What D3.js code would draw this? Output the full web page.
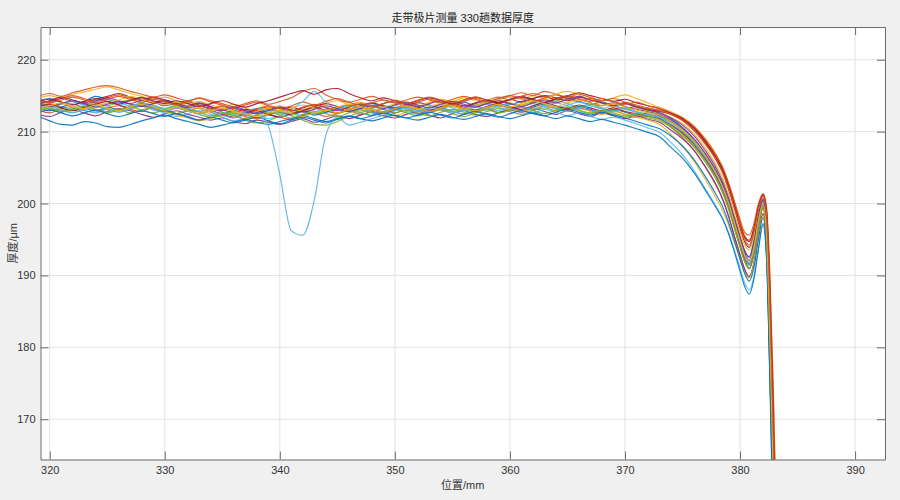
<!DOCTYPE html>
<html><head><meta charset="utf-8">
<script src="https://cdn.jsdelivr.net/npm/d3@7"></script>
<style>body{margin:0;background:#f0f0f0;}svg{display:block}</style>
</head><body><svg id="chart" width="900" height="500"></svg>
<script>
// ---- data ----
const chartTitle = "走带极片测量 330趟数据厚度";
const xLabel = "位置/mm";
const yLabel = "厚度/μm";
const xTicks = [320, 330, 340, 350, 360, 370, 380, 390];
const yTicks = [170, 180, 190, 200, 210, 220];
const xDomain = [319.2, 392.6];
const yDomain = [164.4, 224.55];

const positions = [319,320,321,322,323,324,325,326,327,328,329,330,331,332,333,334,335,336,337,338,
  339,340,341,342,343,344,345,346,347,348,349,350,351,352,353,354,355,356,357,358,
  359,360,361,362,363,364,365,366,367,368,369,370,371,372,373,
  374,375,376,377,378,378.5,379,379.5,380,380.4,380.8,381.2,381.6,382.0,382.3,382.6,382.9,383.2];

const run01 = [214.3,214.6,214.1,213.8,214.2,214.9,214.5,214.0,214.4,214.8,214.2,213.6,213.9,214.3,213.7,213.2,213.5,213.0,212.6,213.1,213.4,212.8,212.3,212.9,213.3,212.7,213.2,213.7,213.4,213.9,213.5,213.1,213.6,214.0,213.7,213.3,213.8,214.1,213.6,213.9,214.3,213.8,214.2,214.6,214.9,214.4,214.7,214.2,213.8,214.1,213.6,213.2,213.5,213.0,212.7,
  211.8,210.6,208.9,206.8,204.2,202.6,200.4,197.8,195.3,193.4,192.6,194.8,198.3,200.6,195.5,179.0,158.0,140];
const run02 = [213.0,212.6,213.2,213.5,212.9,212.7,213.3,213.6,213.1,212.8,213.4,213.0,212.5,212.9,213.3,212.7,212.2,212.6,212.1,211.8,212.4,212.0,211.7,212.3,212.6,212.1,212.5,212.9,212.4,212.8,213.1,212.6,213.0,212.5,212.9,213.3,212.8,212.4,212.9,213.2,212.7,213.1,213.5,213.0,213.6,213.2,212.8,213.3,212.9,212.5,212.9,212.4,212.0,212.3,211.9,
  210.6,209.2,207.4,205.0,202.2,200.5,198.2,195.5,192.8,190.8,189.8,191.6,195.6,198.6,194.0,178.5,160.0,140];
const run03 = [214.6,215.0,214.7,215.2,215.5,215.9,216.2,215.8,215.3,214.9,214.5,214.8,214.3,213.9,214.2,213.7,213.4,213.8,213.3,212.9,213.2,213.6,213.1,212.8,213.4,213.9,214.3,213.8,214.1,213.6,213.9,214.4,214.0,213.6,214.1,214.5,214.2,214.7,214.3,213.9,214.4,214.8,214.5,215.0,214.6,214.2,214.9,215.3,214.8,214.3,214.7,215.1,214.6,214.0,213.4,
  212.8,212.0,210.8,209.0,206.6,205.0,202.8,200.2,197.5,195.6,194.8,196.3,199.4,201.2,199.0,188.0,170.0,150];
const run04 = [212.4,212.1,212.7,213.0,212.6,212.2,212.8,213.2,212.9,212.4,212.0,212.5,212.9,212.4,212.0,211.6,211.9,211.4,211.1,211.6,211.3,211.0,211.4,211.8,211.3,211.7,212.2,211.8,212.3,212.7,212.2,211.9,212.4,212.8,212.3,211.9,212.5,212.9,212.4,212.1,212.6,213.0,212.7,213.2,212.8,212.4,212.9,212.5,212.1,212.6,212.2,211.8,212.2,211.7,211.3,
  210.2,209.0,207.4,205.1,202.4,200.6,198.3,195.5,192.9,190.9,189.8,191.7,195.6,198.6,194.0,177.0,157.0,140];
const run05 = [213.6,213.9,213.4,213.1,213.5,213.9,213.6,214.1,214.4,214.0,213.7,213.2,213.6,213.1,212.8,213.2,212.7,212.4,211.6,211.2,211.5,212.2,212.8,213.0,212.5,212.9,213.4,213.1,212.7,213.2,213.6,213.2,212.9,213.3,213.7,213.2,212.8,213.3,213.7,214.0,213.6,213.3,213.7,214.1,213.8,214.3,213.9,213.4,213.8,213.3,212.9,213.3,212.8,212.4,212.1,
  211.4,210.3,208.8,206.7,204.0,202.3,200.0,197.3,194.7,192.7,191.6,193.6,197.4,199.9,195.2,180.0,161.5,140];
const run06 = [212.8,213.2,212.9,213.4,213.0,212.6,213.1,212.7,213.2,213.5,213.0,212.6,212.1,212.5,212.9,212.4,212.0,211.5,211.9,212.3,211.8,212.2,212.6,212.2,212.7,213.1,212.6,213.0,212.7,212.3,212.8,213.2,212.8,212.4,212.9,213.3,212.9,212.5,213.0,213.4,212.9,213.3,213.0,212.6,213.1,212.7,212.2,212.6,212.1,211.7,212.0,211.6,211.1,210.5,209.9,
  208.5,206.8,204.6,202.0,199.4,197.9,196.0,193.6,191.0,189.0,188.0,189.8,193.8,197.0,192.5,175.0,154.0,140];
const run07 = [213.9,214.3,214.8,214.4,214.0,214.5,214.9,215.3,214.8,214.4,214.0,214.4,213.9,213.5,213.9,213.4,213.0,212.7,213.1,212.8,212.5,212.9,213.4,213.0,213.5,213.9,213.5,213.1,213.6,214.0,213.6,213.3,213.8,213.4,213.0,213.5,213.9,213.6,214.0,214.4,214.0,214.5,214.1,214.6,215.0,214.7,214.3,214.8,214.4,214.0,213.6,214.0,213.5,213.1,212.8,
  212.4,211.6,210.3,208.4,205.9,204.3,202.0,199.4,196.6,194.7,193.9,195.8,199.1,201.1,198.2,186.0,168.0,148];
const run08 = [213.3,212.9,213.4,213.8,213.3,212.9,213.4,213.0,213.5,213.9,213.4,213.0,212.5,212.1,211.6,211.9,212.4,212.8,212.3,212.7,213.1,212.7,212.4,212.8,212.3,212.7,213.1,212.8,213.3,212.9,212.5,213.0,213.4,213.0,212.7,213.2,213.6,213.2,212.8,213.3,213.7,213.3,212.9,213.4,213.8,213.4,213.0,213.5,213.1,212.7,213.1,212.7,212.3,212.6,212.2,
  211.3,210.1,208.5,206.4,203.8,202.1,199.9,197.2,194.6,192.6,191.5,193.5,197.3,199.8,195.0,179.5,160.5,140];
const run09 = [214.5,214.1,214.6,215.0,214.6,214.2,214.7,215.1,214.7,214.3,214.7,214.3,213.8,214.2,214.6,214.1,213.7,213.3,213.7,214.1,213.6,213.2,213.6,214.1,213.7,214.2,214.6,214.1,213.7,214.0,214.4,214.0,213.6,214.1,214.5,214.1,213.7,214.2,214.6,214.2,214.6,215.0,214.6,214.2,214.7,215.1,214.6,214.2,214.6,214.1,213.7,214.0,213.5,213.2,212.9,
  212.5,211.7,210.5,208.7,206.3,204.8,202.6,200.0,197.2,195.4,194.9,196.6,199.5,201.3,199.2,189.0,172.0,152];
const run10 = [213.2,213.6,213.1,212.7,213.2,213.6,213.2,212.8,213.3,213.7,213.2,212.8,212.3,211.9,211.5,211.8,212.3,212.7,212.4,212.9,213.3,212.9,212.6,213.1,213.4,212.9,212.5,213.0,213.4,213.0,212.6,212.2,212.7,213.1,212.7,213.2,213.6,213.1,212.7,213.2,213.6,213.2,212.8,213.2,213.7,213.3,212.8,213.2,212.8,212.4,212.8,212.4,212.0,211.6,211.0,
  209.6,208.0,205.9,203.3,200.5,199.0,197.0,194.6,192.2,190.4,189.6,191.5,195.4,198.3,193.5,176.5,157.5,140];
const run11 = [213.8,214.2,214.6,214.2,213.8,214.3,214.7,214.3,213.9,214.4,214.8,214.4,214.0,213.6,214.0,213.5,213.1,213.5,213.0,212.6,213.0,213.4,212.9,213.3,213.7,213.3,212.9,213.4,213.8,213.4,213.9,214.3,213.9,213.5,213.9,214.3,213.8,213.4,213.9,214.3,213.9,214.4,214.8,214.4,214.0,214.5,214.9,214.5,214.0,213.6,214.0,213.5,213.1,212.8,212.4,
  211.6,210.5,209.0,206.9,204.3,202.6,200.3,197.7,195.0,193.1,192.1,194.1,197.9,200.4,195.8,181.0,162.5,142];
const run12 = [212.9,213.3,212.8,213.2,213.6,213.1,212.7,213.1,212.6,213.0,213.4,212.9,212.5,212.9,212.4,212.0,212.4,212.8,212.4,211.9,212.3,212.7,212.2,211.6,211.0,210.9,211.4,212.1,212.6,212.2,212.7,213.1,212.6,212.2,212.6,213.0,212.5,212.1,212.6,213.0,212.6,212.9,213.4,212.9,212.5,213.0,213.4,212.9,212.5,212.8,212.4,212.0,212.3,211.9,211.5,
  210.6,209.4,207.8,205.7,203.1,201.4,199.2,196.6,193.9,191.9,190.9,192.8,196.7,199.3,194.5,178.0,159.0,140];
const run13 = [213.7,213.3,213.8,214.2,213.7,214.1,214.5,214.0,213.6,214.0,213.6,213.2,213.7,213.3,212.8,213.2,212.7,212.3,212.8,213.2,212.9,212.5,213.1,214.2,215.6,214.1,213.2,213.6,213.1,212.7,213.2,213.6,213.2,212.8,213.3,213.7,213.3,212.9,213.4,213.8,213.4,213.0,213.5,213.9,213.5,213.2,213.7,214.1,213.6,213.2,213.6,213.1,212.7,212.3,212.0,
  211.0,209.9,208.4,206.3,203.7,202.0,199.8,197.1,194.5,192.5,191.4,193.4,197.2,199.7,194.8,179.0,160.0,140];
const run14 = [213.4,213.8,213.3,212.9,213.4,213.8,214.2,213.7,213.3,213.7,213.2,212.8,213.3,212.9,212.5,212.9,212.4,212.0,212.5,212.9,212.4,212.0,212.5,212.9,213.4,212.9,212.6,213.1,213.5,213.1,212.7,213.2,213.6,213.2,212.8,213.3,213.7,213.3,213.0,213.5,213.9,213.5,213.1,213.6,214.0,213.6,213.2,213.7,213.3,212.9,213.3,212.8,212.5,212.1,211.8,
  210.9,209.8,208.2,206.1,203.5,201.8,199.6,196.9,194.2,192.2,191.0,193.0,196.9,199.5,194.8,178.5,159.5,140];
const run15 = [212.1,211.5,211.0,210.9,211.4,211.2,210.7,210.6,211.0,211.5,211.9,212.3,211.8,211.4,211.0,210.6,210.9,211.3,211.7,211.3,211.0,211.4,211.8,212.2,211.8,211.4,211.8,212.2,211.8,211.5,211.9,212.3,211.9,211.6,212.0,212.4,212.0,211.7,212.1,212.5,212.1,211.8,212.2,212.6,212.2,211.8,212.2,211.8,211.4,211.7,211.3,210.9,210.4,209.9,209.3,
  207.8,206.3,204.3,201.8,199.2,197.8,195.8,193.3,190.6,188.5,187.4,189.4,193.6,197.2,192.5,175.0,154.0,140];
const run16 = [214.9,215.3,214.9,215.4,215.8,216.2,216.4,216.1,215.6,215.2,214.8,215.1,214.7,214.3,214.7,214.3,213.9,213.5,213.9,214.3,213.8,214.2,214.7,215.6,216.0,215.1,214.5,214.1,214.5,214.9,214.4,214.0,214.4,214.8,214.4,214.0,214.5,214.9,214.5,214.1,214.6,215.0,215.4,215.0,215.6,215.2,214.8,215.2,214.7,214.3,214.6,214.1,213.7,213.3,213.0,
  212.6,211.9,210.7,208.9,206.5,205.0,202.9,200.4,197.8,196.0,195.6,197.2,200.0,201.4,199.6,190.0,174.0,153];
const run17 = [213.0,213.4,213.9,213.5,213.1,213.6,214.0,214.4,214.9,214.5,214.1,213.7,214.1,213.6,213.2,212.8,213.2,212.8,212.4,212.8,213.2,212.8,213.3,213.7,213.3,212.9,213.4,213.8,213.4,213.0,213.4,213.8,213.5,213.1,213.5,213.9,213.5,213.1,213.6,214.0,214.4,214.0,213.7,214.1,214.5,215.2,215.6,215.1,214.4,213.9,213.5,213.9,213.3,212.9,212.6,
  212.0,211.1,209.7,207.7,205.1,203.5,201.3,198.6,196.0,194.2,193.5,195.5,198.9,201.0,197.5,184.0,165.0,145];
const run18 = [213.1,213.5,213.0,212.6,213.1,213.5,213.1,212.7,213.2,213.6,213.2,212.8,213.3,212.9,212.4,212.8,212.3,211.9,212.4,212.8,210.8,204.0,196.2,195.6,200.5,209.5,212.0,210.9,211.3,211.8,212.3,212.9,213.3,212.9,213.4,213.0,212.6,213.1,213.5,213.1,213.5,213.9,213.5,213.1,213.6,214.0,213.6,213.2,213.6,213.2,212.8,213.2,212.7,212.3,212.0,
  211.2,210.1,208.6,206.5,203.9,202.2,200.0,197.3,194.7,192.8,191.8,193.8,197.6,200.1,195.4,180.0,161.0,140];
const run19 = [213.9,213.5,213.9,214.3,213.9,213.4,213.8,214.2,213.8,213.5,213.9,214.2,213.8,213.3,213.6,213.2,212.9,213.3,212.9,212.5,212.9,213.4,213.0,212.7,213.1,213.6,213.2,212.8,213.2,213.6,213.2,213.7,214.1,213.7,213.3,213.8,214.2,213.8,213.4,213.9,214.3,213.9,213.5,214.0,214.4,214.0,214.5,214.9,214.4,214.0,213.6,213.9,213.4,213.0,212.6,
  211.9,210.9,209.4,207.3,204.7,203.0,200.8,198.1,195.4,193.5,192.5,194.6,198.3,200.7,196.5,182.0,163.5,144];
const run20 = [213.5,213.1,212.7,213.1,213.5,213.0,212.6,213.0,213.4,213.0,212.6,213.1,213.5,213.1,212.7,212.2,212.6,212.2,211.8,212.3,212.7,212.3,211.9,212.4,212.8,212.5,212.1,212.6,213.0,212.6,212.2,212.6,213.0,212.6,212.2,212.7,213.1,212.7,212.3,212.8,213.2,212.8,212.4,212.9,213.3,212.9,213.4,213.0,212.6,213.0,212.6,212.2,212.5,212.1,211.7,
  210.8,209.6,208.0,205.9,203.3,201.6,199.4,196.7,194.0,192.0,191.0,193.0,196.9,199.5,194.8,179.0,160.0,140];
const run21 = [214.1,214.5,214.1,213.7,214.2,214.6,214.2,213.8,214.3,214.7,214.3,213.9,214.3,213.9,213.5,213.9,214.3,213.8,213.4,213.9,214.3,214.8,215.3,215.7,215.2,215.8,216.0,215.3,214.7,214.3,214.7,214.3,213.9,214.3,214.7,214.3,213.9,214.4,214.8,214.4,214.0,214.5,214.9,214.5,214.1,214.6,215.0,215.4,215.0,214.6,214.2,214.5,214.0,213.6,213.2,
  212.6,211.8,210.5,208.6,206.2,204.6,202.4,199.8,197.1,195.3,194.7,196.5,199.5,201.2,198.8,187.5,169.0,149];
const run22 = [212.6,213.0,212.6,212.2,212.6,213.0,212.5,212.1,212.5,212.9,212.5,212.1,212.5,212.0,211.6,212.0,211.6,211.2,211.6,212.0,211.5,211.1,211.6,212.0,211.6,211.2,211.7,212.1,211.8,212.2,212.6,212.2,211.9,212.3,212.7,212.3,211.9,212.4,212.8,212.4,212.0,212.5,212.9,212.5,212.2,212.7,213.1,212.7,212.3,212.7,212.3,211.9,211.4,210.9,210.4,
  209.4,208.0,206.1,203.7,201.0,199.5,197.4,194.9,192.3,190.3,189.2,191.0,195.0,198.0,193.2,176.0,156.0,140];
const run23 = [214.4,214.0,214.4,214.8,214.4,214.0,214.5,214.9,214.5,214.1,214.5,214.1,213.7,214.1,213.6,213.2,213.6,213.2,212.8,213.2,213.6,213.2,212.9,213.4,213.8,213.4,213.0,213.5,213.9,213.5,213.9,214.3,213.9,214.4,214.8,214.4,214.0,214.4,214.8,214.4,214.8,214.4,214.9,215.3,214.9,214.5,215.0,214.6,214.2,214.6,214.2,213.8,214.1,213.6,213.2,
  212.4,211.5,210.1,208.2,205.8,204.2,202.1,199.5,196.9,195.0,194.2,196.1,199.2,201.1,198.5,186.0,167.5,147];
const run24 = [213.2,213.6,214.0,213.6,213.2,213.7,213.3,212.9,213.4,213.8,213.4,213.0,213.4,212.9,212.5,212.9,213.3,212.9,212.5,212.1,212.5,212.9,212.5,212.1,212.6,213.0,212.6,213.1,213.5,213.1,212.7,213.2,213.6,213.2,212.8,213.3,213.7,213.3,212.9,213.4,213.8,213.4,213.9,214.3,213.9,213.5,214.0,214.4,214.0,213.6,213.9,213.4,213.0,212.6,212.3,
  211.3,210.2,208.7,206.6,204.0,202.3,200.1,197.4,194.8,192.8,191.9,193.9,197.6,200.0,195.5,180.5,161.0,141];

const runs = [run01, run02, run03, run04, run05, run06, run07, run08, run09, run10, run11, run12,
  run13, run14, run15, run16, run17, run18, run19, run20, run21, run22, run23, run24];
const runColors = ["#0072BD","#D95319","#EDB120","#7E2F8E","#77AC30","#4DBEEE","#A2142F",
  "#0072BD","#D95319","#EDB120","#7E2F8E","#77AC30","#4DBEEE","#A2142F",
  "#0072BD","#D95319","#EDB120","#5AADE4",
  "#7E2F8E","#77AC30","#A2142F","#0072BD","#D95319","#EDB120"];

// ---- drawing ----
const svg = d3.select("#chart");
const W = 900, H = 500;
const L = 40.5, R = 885, T = 27, B = 459.5;
svg.append("rect").attr("width", W).attr("height", H).attr("fill", "#f0f0f0");
svg.append("rect").attr("x", L).attr("y", T).attr("width", R - L).attr("height", B - T).attr("fill", "#fff");

const x = d3.scaleLinear().domain(xDomain).range([L, R]);
const y = d3.scaleLinear().domain(yDomain).range([B, T]);

const grid = svg.append("g").attr("stroke", "#e3e3e3").attr("stroke-width", 1);
xTicks.forEach(t => grid.append("line").attr("x1", x(t)).attr("x2", x(t)).attr("y1", T).attr("y2", B));
yTicks.forEach(t => grid.append("line").attr("x1", L).attr("x2", R).attr("y1", y(t)).attr("y2", y(t)));

svg.append("clipPath").attr("id", "plotclip").append("rect")
  .attr("x", L).attr("y", T).attr("width", R - L).attr("height", B - T);

const line = d3.line().x(d => x(d[0])).y(d => y(d[1])).curve(d3.curveMonotoneX);
const lines = svg.append("g").attr("clip-path", "url(#plotclip)");
runs.forEach((r, i) => {
  lines.append("path")
    .datum(positions.map((p, j) => [p, r[j]]))
    .attr("d", line).attr("fill", "none")
    .attr("stroke", runColors[i]).attr("stroke-width", 1.15)
    .attr("stroke-opacity", 0.9);
});

const axisColor = "#6b6b6b";
const font = "'Liberation Sans', Arial, 'Noto Sans CJK SC', sans-serif";
function style(g) {
  g.select(".domain").attr("stroke", axisColor);
  g.selectAll(".tick line").attr("stroke", axisColor);
  g.selectAll(".tick text").attr("fill", "#333").attr("font-size", 11).attr("font-family", font);
}
svg.append("g").attr("transform", `translate(0,${B})`)
  .call(d3.axisBottom(x).tickValues(xTicks).tickSizeInner(-8).tickSizeOuter(0).tickPadding(7))
  .call(style);
svg.append("g").attr("transform", `translate(0,${T})`)
  .call(d3.axisTop(x).tickValues(xTicks).tickSizeInner(-8).tickSizeOuter(0).tickFormat(""))
  .call(style);
svg.append("g").attr("transform", `translate(${L},0)`)
  .call(d3.axisLeft(y).tickValues(yTicks).tickSizeInner(-8).tickSizeOuter(0).tickPadding(5))
  .call(style);
svg.append("g").attr("transform", `translate(${R},0)`)
  .call(d3.axisRight(y).tickValues(yTicks).tickSizeInner(-8).tickSizeOuter(0).tickFormat(""))
  .call(style);

svg.append("text").attr("x", (L + R) / 2).attr("y", 22).attr("text-anchor", "middle")
  .attr("font-family", font).attr("font-size", 11).attr("fill", "#222")
  .text(chartTitle);
svg.append("text").attr("x", (L + R) / 2).attr("y", 489).attr("text-anchor", "middle")
  .attr("font-family", font).attr("font-size", 11).attr("fill", "#333")
  .text(xLabel);
svg.append("text").attr("transform", `translate(17,${(T + B) / 2}) rotate(-90)`)
  .attr("text-anchor", "middle")
  .attr("font-family", font).attr("font-size", 11).attr("fill", "#333")
  .text(yLabel);
</script></body></html>
